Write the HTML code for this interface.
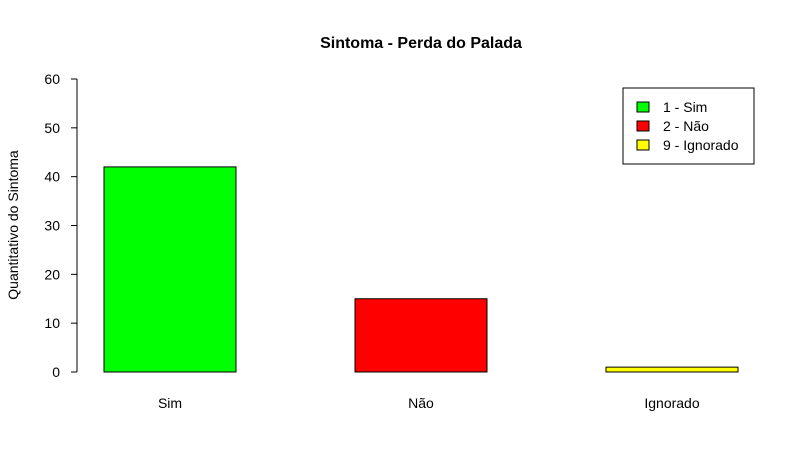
<!DOCTYPE html>
<html><head><meta charset="utf-8"><style>
body{margin:0;background:#fff}
svg text{font-family:"Liberation Sans",Arial,sans-serif}
</style></head><body>
<svg id="c" width="804" height="470" xmlns="http://www.w3.org/2000/svg">
<rect width="804" height="470" fill="#fff"/>
<text x="421" y="48" text-anchor="middle" font-size="16" font-weight="bold">Sintoma - Perda do Palada</text>
<text transform="translate(18,225) rotate(-90)" text-anchor="middle" font-size="14">Quantitativo do Sintoma</text>
<g id="axis"></g>
<g id="bars"></g>
<g>
<rect x="623" y="88" width="131" height="76" fill="#fff" stroke="#000"/>
<g id="leg"></g>
</g>
</svg>
<script>
const categories=["Sim","Não","Ignorado"];
const values=[42,15,1];
const colors=["#00ff00","#ff0000","#ffff00"];
const legendLabels=["1 - Sim","2 - Não","9 - Ignorado"];
const yTicks=[0,10,20,30,40,50,60];
const NS="http://www.w3.org/2000/svg";
const y=v=>372-v*(372-79)/60;
const xc=i=>170+i*251;
function mk(t,a,p){const e=document.createElementNS(NS,t);for(const k in a)e.setAttribute(k,a[k]);p.appendChild(e);return e;}
const ax=document.getElementById('axis');
mk('line',{x1:77,x2:77,y1:y(0),y2:y(60),stroke:'#000'},ax);
yTicks.forEach(v=>{
 const l=mk('line',{x1:71,x2:77,y1:y(v),y2:y(v),stroke:'#000'},ax);
 
 
 const t=mk('text',{x:60,y:y(v)+5,'text-anchor':'end','font-size':14},ax);t.textContent=v;
 
 
});
const bg=document.getElementById('bars');
values.forEach((v,i)=>{
 const r=mk('rect',{x:xc(i)-66,y:y(v),width:132,height:y(0)-y(v),fill:colors[i],stroke:'#000'},bg);
 
 
 const t=mk('text',{x:xc(i),y:408,'text-anchor':'middle','font-size':14},bg);t.textContent=categories[i];
 
 
});
const lg=document.getElementById('leg');
legendLabels.forEach((s,i)=>{
 const g=mk('g',{},lg);
 
 
 mk('rect',{x:637,y:102+i*19,width:12,height:10,fill:colors[i],stroke:'#000'},g);
 const t=mk('text',{x:663,y:112+i*19,'font-size':14},g);t.textContent=s;
});
</script>
</body></html>
